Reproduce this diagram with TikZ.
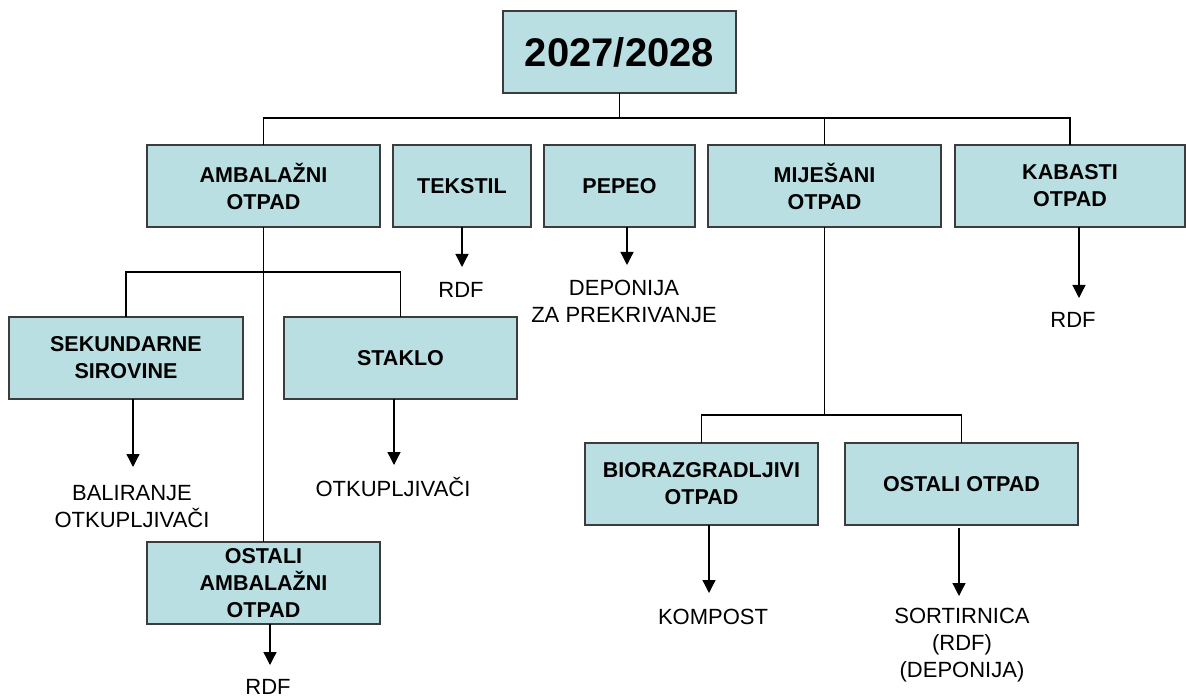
\documentclass[tikz,border=0pt]{standalone}
\usepackage{fontspec}
\setmainfont{Liberation Sans}
\usetikzlibrary{arrows.meta,calc}
\definecolor{boxfill}{HTML}{BADFE3}
\definecolor{boxline}{HTML}{3C3C3C}
\tikzset{
  box/.style={draw=boxline, line width=1.5pt, fill=boxfill, inner sep=0pt, outer sep=0pt,
    minimum height=82pt, align=center, font=\bfseries\fontsize{21.5}{27}\selectfont},
  lbl/.style={inner sep=0pt, outer sep=0pt, anchor=north, align=center,
    font=\fontsize{22}{27}\selectfont},
  one/.style={text height=16pt},
  conn/.style={line width=1.3pt, black},
  arr/.style={conn, -{Triangle[length=13pt,width=13pt]}}
}
\begin{document}
\begin{tikzpicture}[x=1pt,y=-1pt]
\useasboundingbox (0,0) rectangle (1186,700);
% boxes
\node[box, minimum width=233pt, font=\bfseries\fontsize{40}{44}\selectfont] (top) at (619.5,52) {2027/2028};
\node[box, minimum width=233pt] (amb) at (263.5,186) {AMBALAŽNI\\OTPAD};
\node[box, minimum width=138pt] (tek) at (462,186) {TEKSTIL};
\node[box, minimum width=151pt] (pep) at (619.5,186) {PEPEO};
\node[box, minimum width=233pt] (mij) at (824.5,186) {MIJEŠANI\\OTPAD};
\node[box, minimum width=230pt] (kab) at (1070,186) {KABASTI\\OTPAD};
\node[box, minimum width=234pt] (sek) at (126,358) {SEKUNDARNE\\SIROVINE};
\node[box, minimum width=233pt] (sta) at (400.5,358) {STAKLO};
\node[box, minimum width=233pt] (oam) at (263.5,583) {OSTALI\\AMBALAŽNI\\OTPAD};
\node[box, minimum width=233pt] (bio) at (701.5,484) {BIORAZGRADLJIVI\\OTPAD};
\node[box, minimum width=233pt] (ost) at (961.5,484) {OSTALI OTPAD};
% labels
\node[lbl, one] (r1) at (461,282) {RDF};
\node[lbl] (dep) at (624,280) {DEPONIJA\\ZA PREKRIVANJE};
\node[lbl, one] (r2) at (1073,312) {RDF};
\node[lbl] (bal) at (132,485) {BALIRANJE\\OTKUPLJIVAČI};
\node[lbl, one] (otk) at (393,480) {OTKUPLJIVAČI};
\node[lbl, one] (r3) at (268,678) {RDF};
\node[lbl, one] (kom) at (713,608) {KOMPOST};
\node[lbl] (sor) at (962,608) {SORTIRNICA\\(RDF)\\(DEPONIJA)};
% tree connectors
\draw[conn] (top.south) -- ++(0,25);
\draw[conn] (amb.north) -- ++(0,-27) -| (kab.north);
\draw[conn] (mij.north) -- ++(0,-27);
\draw[conn] (amb.south) -- (oam.north);
\draw[conn] (sek.north) -- ++(0,-45) -| (sta.north);
\draw[conn] (mij.south) -- ([yshift=28pt]mij.south |- bio.north);
\draw[conn] (bio.north) -- ++(0,-28) -| (ost.north);
% arrows
\draw[arr] ([xshift=1pt]tek.south -| r1.north) -- ([xshift=1pt,yshift=15pt]r1.north);
\draw[arr] ([xshift=3pt]pep.south -| dep.north) -- ([xshift=3pt,yshift=15pt]dep.north);
\draw[arr] ([xshift=6pt]kab.south -| r2.north) -- ([xshift=6pt,yshift=14pt]r2.north);
\draw[arr] ([xshift=1pt]sek.south -| bal.north) -- ([xshift=1pt,yshift=18pt]bal.north);
\draw[arr] ([xshift=1pt]sta.south -| otk.north) -- ([xshift=1pt,yshift=15pt]otk.north);
\draw[arr] ([xshift=2pt]oam.south -| r3.north) -- ([xshift=2pt,yshift=13pt]r3.north);
\draw[arr] ([xshift=-4pt]bio.south -| kom.north) -- ([xshift=-4pt,yshift=15pt]kom.north);
\draw[arr] ([xshift=-3pt,yshift=-3pt]ost.south -| sor.north) -- ([xshift=-3pt,yshift=12pt]sor.north);
\end{tikzpicture}
\end{document}
